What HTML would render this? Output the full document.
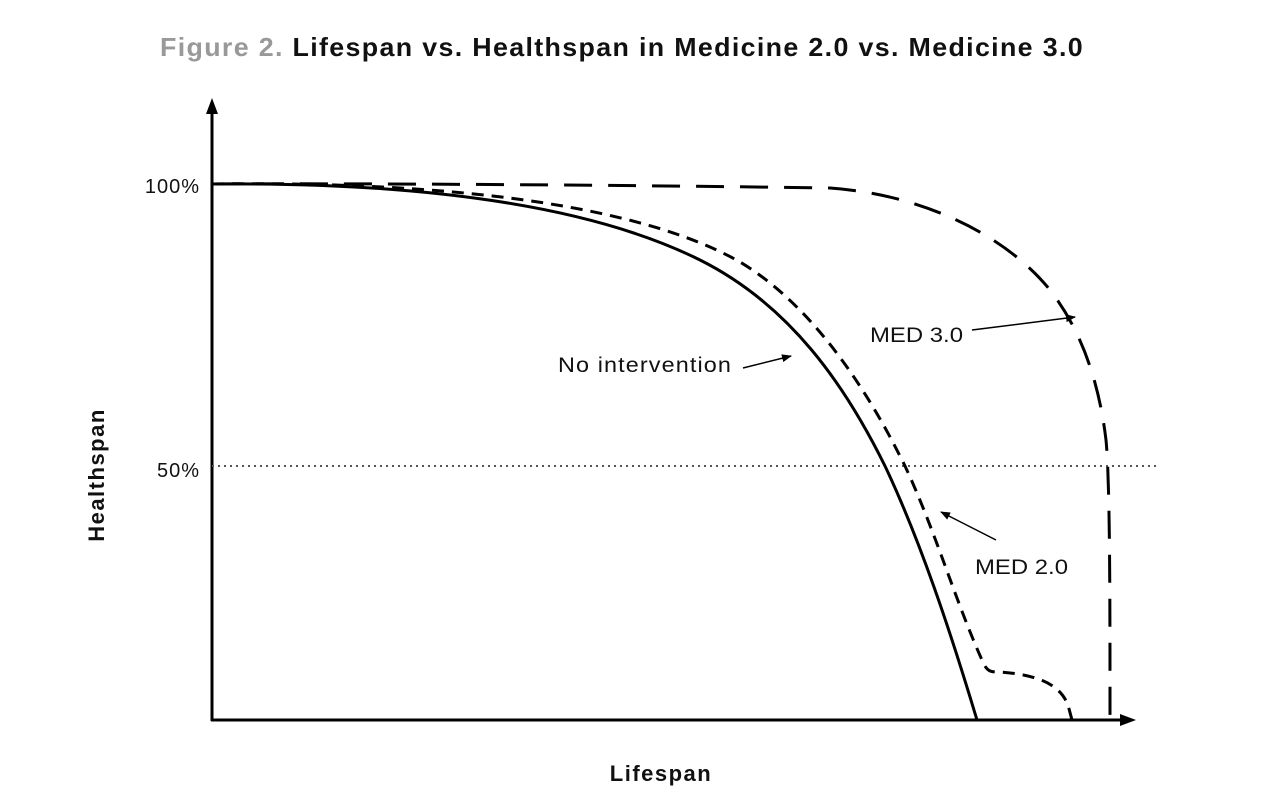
<!DOCTYPE html>
<html><head><meta charset="utf-8"><style>
body{margin:0;background:#fff;}
svg{display:block;font-family:"Liberation Sans",sans-serif;}
</style></head><body>
<svg width="1280" height="809" viewBox="0 0 1280 809">
<rect width="1280" height="809" fill="#fff"/>
<text x="622" y="56" text-anchor="middle" font-size="26" font-weight="bold" fill="#111" letter-spacing="1.3" textLength="924" lengthAdjust="spacingAndGlyphs"><tspan fill="#999">Figure 2.</tspan> Lifespan vs. Healthspan in Medicine 2.0 vs. Medicine 3.0</text>
<defs><marker id="ah" markerWidth="10" markerHeight="8" refX="9" refY="4" orient="auto" markerUnits="userSpaceOnUse"><path d="M0,0 L10,4 L0,8 z" fill="#000"/></marker></defs>
<line x1="212" y1="721" x2="212" y2="112" stroke="#000" stroke-width="3"/>
<path d="M206,114 L212,98 L218,114 z" fill="#000"/>
<line x1="211" y1="720" x2="1122" y2="720" stroke="#000" stroke-width="3"/>
<path d="M1120,714 L1136,720 L1120,726 z" fill="#000"/>
<line x1="212" y1="466" x2="1160" y2="466" stroke="#555" stroke-width="2" stroke-dasharray="2,4"/>
<text x="200" y="193" text-anchor="end" font-size="20" fill="#111" letter-spacing="1">100%</text>
<text x="200" y="477" text-anchor="end" font-size="20" fill="#111" letter-spacing="1">50%</text>
<text transform="translate(104,475) rotate(-90)" text-anchor="middle" font-size="22" font-weight="bold" fill="#111" letter-spacing="1.5">Healthspan</text>
<text x="661" y="781" text-anchor="middle" font-size="22" font-weight="bold" fill="#111" letter-spacing="1.5">Lifespan</text>
<path d="M212,184 C400,183 700,186 830,188 C930,195 1010,240 1050,290 C1085,335 1100,390 1106,440 C1110,480 1110,600 1110,720" fill="none" stroke="#000" stroke-width="3" stroke-dasharray="28,16"/>
<path d="M212,184 C450,181 640,205 740,262 C820,310 875,405 905,466 C935,530 955,600 982,660 C987,672 990,672 1000,672 C1040,675 1060,685 1068,705 L1072,720" fill="none" stroke="#000" stroke-width="3" stroke-dasharray="12,8"/>
<path d="M212,184 C420,182 590,205 700,260 C790,305 845,385 885,466 C920,540 950,630 977,720" fill="none" stroke="#000" stroke-width="3"/>
<text x="558" y="372" font-size="21" fill="#111" letter-spacing="1" textLength="174" lengthAdjust="spacingAndGlyphs">No intervention</text>
<line x1="743" y1="368" x2="791" y2="356" stroke="#000" stroke-width="1.5" marker-end="url(#ah)"/>
<text x="870" y="342" font-size="21" fill="#111" textLength="93" lengthAdjust="spacingAndGlyphs">MED 3.0</text>
<line x1="972" y1="330" x2="1075" y2="317" stroke="#000" stroke-width="1.5" marker-end="url(#ah)"/>
<text x="975" y="574" font-size="21" fill="#111" textLength="93" lengthAdjust="spacingAndGlyphs">MED 2.0</text>
<line x1="996" y1="540" x2="941" y2="512" stroke="#000" stroke-width="1.5" marker-end="url(#ah)"/>
</svg>
</body></html>
